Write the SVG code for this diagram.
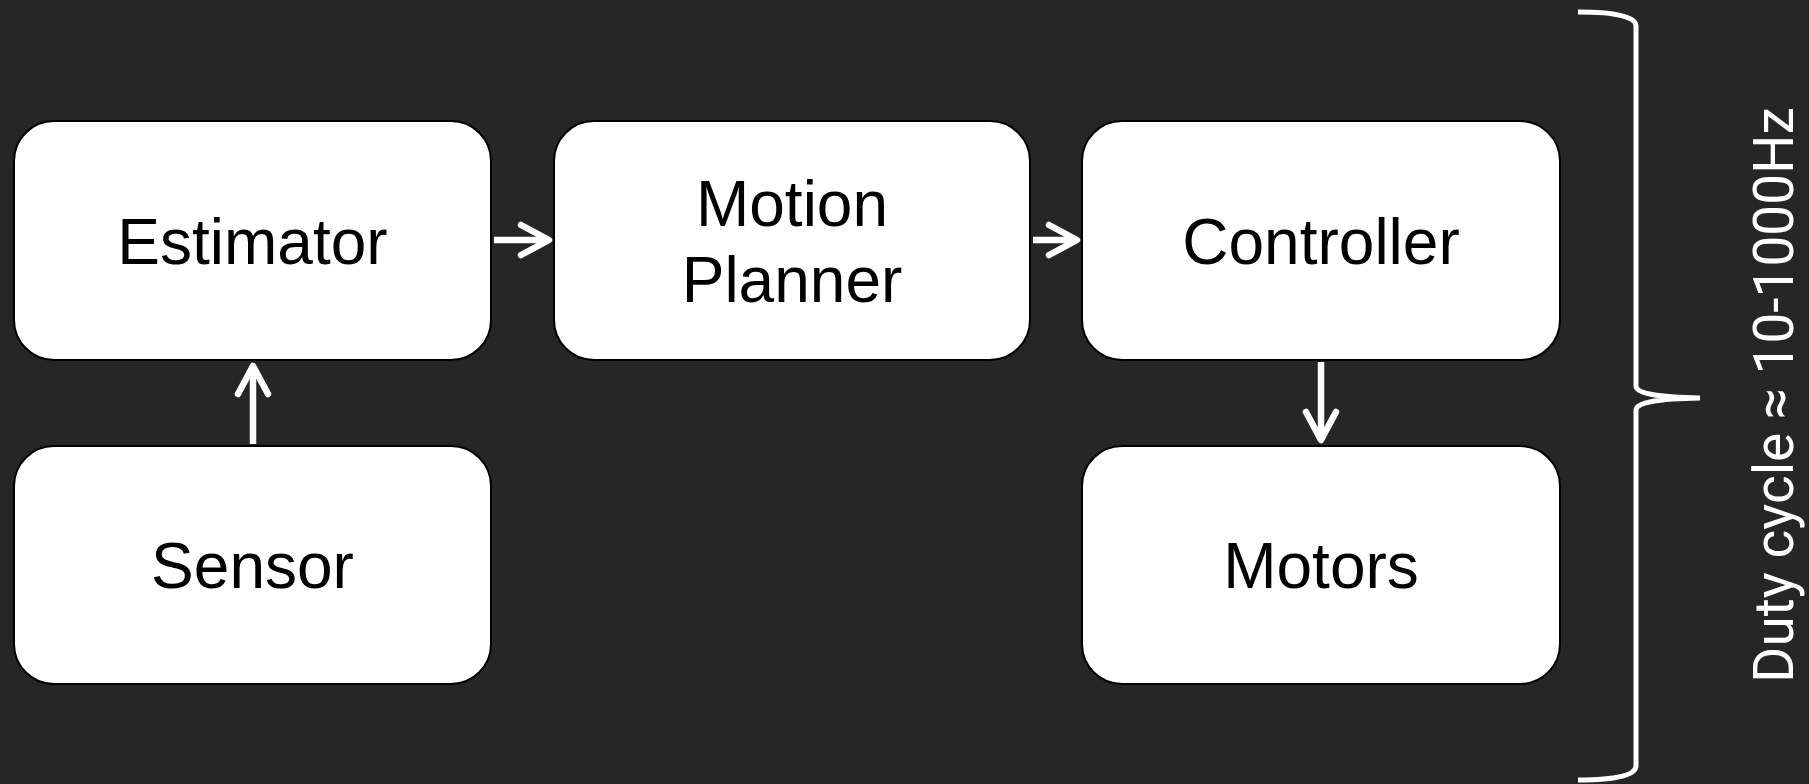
<svg xmlns="http://www.w3.org/2000/svg" width="1809" height="784" viewBox="0 0 1809 784">
<style>
.box{fill:#ffffff;stroke:#000000;stroke-width:2}
.lbl{font-family:"Liberation Sans",Arial,sans-serif;font-size:64px;fill:#000000;text-anchor:middle}
.edge{stroke:#ffffff;stroke-width:6.5;fill:none}
.side{font-family:Roboto,"Liberation Sans",sans-serif;font-size:55px;fill:#ffffff;text-anchor:middle}
</style>
<defs>
<marker id="arr" markerUnits="userSpaceOnUse" viewBox="-40 -24 46 48" refX="0" refY="0" markerWidth="46" markerHeight="48" orient="auto" overflow="visible">
<path d="M-28,-15 L0,0 L-28,15" fill="none" stroke="#ffffff" stroke-width="6.5" stroke-linecap="round" stroke-linejoin="round"/>
</marker>
</defs>
<rect width="1809" height="784" fill="#262626"/>
<g id="estimator"><rect class="box" x="14" y="121" width="477" height="239" rx="40"/><text class="lbl" x="252.5" y="264">Estimator</text></g>
<g id="motion-planner"><rect class="box" x="554" y="121" width="476" height="239" rx="40"/><text class="lbl" x="792" y="226">Motion</text><text class="lbl" x="792" y="302">Planner</text></g>
<g id="controller"><rect class="box" x="1082" y="121" width="478" height="239" rx="40"/><text class="lbl" x="1321" y="264">Controller</text></g>
<g id="sensor"><rect class="box" x="14" y="446" width="477" height="238" rx="40"/><text class="lbl" x="252.5" y="588">Sensor</text></g>
<g id="motors"><rect class="box" x="1082" y="446" width="478" height="238" rx="40"/><text class="lbl" x="1321" y="588">Motors</text></g>
<g id="connectors">
<path class="edge" d="M494,240 L549,240" marker-end="url(#arr)"/>
<path class="edge" d="M1033,240 L1077,240" marker-end="url(#arr)"/>
<path class="edge" d="M253,444 L253,366" marker-end="url(#arr)"/>
<path class="edge" d="M1321,362 L1321,440" marker-end="url(#arr)"/>
</g>
<g id="bracket">
<path d="M1578,12 Q1636,12 1636,26 L1636,386 Q1636,397 1700,398 Q1636,399 1636,410 L1636,766 Q1636,780 1578,780" fill="none" stroke="#ffffff" stroke-width="5"/>
<text class="side" transform="translate(1793,395) rotate(-90)">Duty cycle ≈ 10-1000Hz</text>
</g>
</svg>
